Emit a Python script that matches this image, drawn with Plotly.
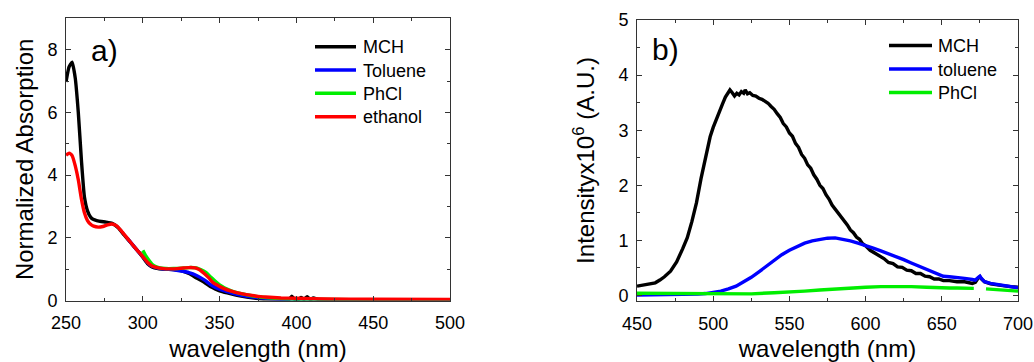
import plotly.graph_objects as go

# ---------------- data: panel a) absorption ----------------
wl_abs_mch = [250, 252, 254, 256, 258, 260, 262, 264, 266, 268, 270, 273, 276, 280, 284, 288, 292, 296,
              300, 303, 306, 310, 315, 320, 325, 330, 335, 340, 345, 350, 355, 360, 365, 370, 375, 380,
              385, 390, 395, 397, 399, 401, 403, 405, 407, 409, 411, 415, 420, 430, 440, 450, 460, 470,
              480, 490, 500]
abs_mch = [6.97, 7.45, 7.6, 7.1, 6.0, 4.5, 3.3, 2.86, 2.66, 2.58, 2.55, 2.52, 2.5, 2.46, 2.32, 2.08, 1.85, 1.62,
           1.38, 1.18, 1.07, 1.02, 1.0, 0.99, 0.95, 0.86, 0.72, 0.58, 0.42, 0.31, 0.24, 0.18, 0.13, 0.09, 0.06, 0.03,
           0.02, 0.01, 0.02, 0.14, 0.03, 0.02, 0.1, 0.04, 0.12, 0.03, 0.08, 0.02, 0.02, 0.02, 0.02, 0.02, 0.02, 0.02,
           0.02, 0.02, 0.02]

wl_abs_tol = [290, 295, 300, 305, 310, 315, 320, 325, 330, 335, 340, 345, 350, 355, 360, 365, 370, 380, 390,
              400, 450, 500]
abs_tol = [1.98, 1.68, 1.4, 1.12, 1.03, 1.0, 0.98, 0.94, 0.89, 0.8, 0.66, 0.48, 0.36, 0.28, 0.21, 0.16, 0.12,
           0.07, 0.04, 0.03, 0.02, 0.02]

wl_abs_phcl = [300, 302, 304, 306, 308, 311, 315, 320, 325, 330, 335, 338, 341, 344, 347, 350, 353, 356, 360,
               365, 370, 375, 380, 390, 400, 420, 450, 500]
abs_phcl = [1.6, 1.42, 1.28, 1.16, 1.09, 1.04, 1.02, 1.02, 1.03, 1.05, 1.04, 0.98, 0.9, 0.76, 0.62, 0.5, 0.41,
            0.34, 0.27, 0.21, 0.16, 0.12, 0.09, 0.06, 0.04, 0.03, 0.02, 0.02]

wl_abs_eth = [250, 252, 254, 256, 258, 260, 262, 264, 266, 268, 271, 274, 277, 280, 283, 286, 290, 295, 300,
              303, 306, 310, 315, 320, 325, 330, 334, 337, 340, 343, 346, 350, 353, 356, 361, 365, 370, 375,
              380, 390, 400, 420, 450, 500]
abs_eth = [4.63, 4.7, 4.62, 4.3, 3.85, 3.25, 2.8, 2.55, 2.43, 2.37, 2.34, 2.36, 2.41, 2.44, 2.38, 2.22, 1.98,
           1.68, 1.4, 1.22, 1.1, 1.04, 1.01, 1.01, 1.03, 1.05, 1.04, 0.98, 0.86, 0.72, 0.56, 0.45, 0.38, 0.32,
           0.25, 0.21, 0.17, 0.13, 0.11, 0.08, 0.07, 0.05, 0.04, 0.03]

# ---------------- data: panel b) emission ----------------
wl_em_mch = [450, 455, 459, 462, 465, 468, 472, 476, 480, 483, 486, 489, 492, 495, 498, 500, 502, 504, 506, 508,
             509.5, 511, 512.5, 514, 515.5, 517, 518.5, 520, 521, 522.5, 524, 526, 528, 530, 532, 534, 536, 538,
             540, 542, 544, 546, 548, 550, 552, 554, 556, 558, 560, 562, 564, 566, 568, 570, 572, 574, 576, 578,
             580, 582, 584, 586, 588, 590, 592, 594, 596, 598, 600, 603, 606, 609, 612, 615, 618, 621, 624, 627,
             630, 633, 636, 639, 642, 645, 648, 651, 655, 660, 665, 670, 672, 674, 675, 676, 678, 682, 686, 690,
             695, 700]
em_mch = [0.17, 0.19, 0.21, 0.23, 0.28, 0.34, 0.44, 0.61, 0.85, 1.05, 1.34, 1.68, 2.12, 2.52, 2.88, 3.05, 3.2,
          3.36, 3.47, 3.6, 3.66, 3.73, 3.68, 3.62, 3.67, 3.64, 3.7, 3.67, 3.73, 3.66, 3.68, 3.63, 3.62, 3.58, 3.56,
          3.52, 3.49, 3.43, 3.38, 3.3, 3.23, 3.12, 3.06, 2.95, 2.89, 2.76, 2.69, 2.56, 2.49, 2.37, 2.31, 2.19, 2.11,
          2.0, 1.94, 1.83, 1.75, 1.64, 1.57, 1.49, 1.43, 1.34, 1.28, 1.19, 1.14, 1.06, 1.02, 0.94, 0.9, 0.82, 0.77,
          0.71, 0.67, 0.6, 0.58, 0.52, 0.51, 0.46, 0.45, 0.4, 0.4, 0.35, 0.34, 0.3, 0.3, 0.27, 0.27, 0.25,
          0.25, 0.22, 0.24, 0.32, 0.34, 0.3, 0.25, 0.21, 0.2, 0.18, 0.16, 0.15]

wl_em_tol = [450, 470, 485, 490, 495, 500, 505, 510, 515, 520, 525, 530, 535, 540, 545, 550, 555, 560, 565, 570,
             575, 580, 585, 590, 595, 600, 605, 610, 615, 620, 625, 630, 635, 640, 645, 648, 651, 655, 660, 665,
             670, 672, 674, 675, 676, 678, 682, 686, 690, 695, 700]
em_tol = [0.01, 0.01, 0.02, 0.025, 0.035, 0.05, 0.08, 0.12, 0.17, 0.25, 0.33, 0.43, 0.53, 0.63, 0.74, 0.82, 0.89,
          0.95, 0.99, 1.02, 1.04, 1.045, 1.02, 0.99, 0.95, 0.91, 0.86, 0.81, 0.76, 0.71, 0.65, 0.59, 0.53, 0.48,
          0.42, 0.38, 0.35, 0.34, 0.33, 0.31, 0.29, 0.28, 0.33, 0.35, 0.31, 0.25, 0.22, 0.2, 0.18, 0.16, 0.14]

wl_em_phcl = [450, 480, 500, 525, 540, 550, 560, 570, 580, 590, 600, 610, 620, 630, 640, 650, 655, 660, 665, 671,
              675, 679, 685, 690, 695, 700]
em_phcl = [0.04, 0.03, 0.03, 0.03, 0.05, 0.06, 0.08, 0.1, 0.12, 0.14, 0.15, 0.16, 0.165, 0.16, 0.15, 0.13, 0.135,
           0.135, 0.13, 0.13, None, 0.12, 0.11, 0.1, 0.09, 0.08]

labels_a = ["MCH", "Toluene", "PhCl", "ethanol"]
labels_b = ["MCH", "toluene", "PhCl"]
colors = ["#000000", "#0000FF", "#00EE00", "#FF0000"]

W, H = 1034, 362
FONT = "Arial, Liberation Sans, sans-serif"


def px(x):
    return x / W


def py(y):
    return 1 - y / H


fig = go.Figure()
series_a = [(wl_abs_mch, abs_mch), (wl_abs_tol, abs_tol), (wl_abs_phcl, abs_phcl), (wl_abs_eth, abs_eth)]
for (xs, ys), name, c in zip(series_a, labels_a, colors):
    fig.add_trace(go.Scatter(x=xs, y=ys, name=name, mode="lines",
                             line=dict(color=c, width=3.4, shape="spline", smoothing=0.5),
                             xaxis="x", yaxis="y", showlegend=False, connectgaps=False))

series_b = [(wl_em_mch, em_mch), (wl_em_tol, em_tol), (wl_em_phcl, em_phcl)]
for (xs, ys), name, c in zip(series_b, labels_b, colors):
    fig.add_trace(go.Scatter(x=xs, y=ys, name=name, mode="lines", line=dict(color=c, width=3.4),
                             xaxis="x2", yaxis="y2", showlegend=False, connectgaps=False))

axcol = "#333333"


def axis_common(dtick, minor_dtick):
    return dict(showline=True, linecolor=axcol, linewidth=1, mirror="ticks", ticks="inside", ticklen=5,
                tickwidth=1, tickcolor=axcol, showgrid=False, zeroline=False, dtick=dtick, automargin=False,
                minor=dict(ticks="inside", ticklen=3, tickwidth=1, tickcolor=axcol, dtick=minor_dtick, showgrid=False),
                tickfont=dict(family=FONT, size=18, color="#000"),
                title_font=dict(family=FONT, size=24, color="#000"))


xa = axis_common(50, 25)
xa.update(domain=[px(66), px(450)], range=[250, 500], anchor="y", tick0=250,
          title=dict(text="wavelength (nm)", standoff=15), ticklabelstandoff=6)
ya = axis_common(2, 1)
ya.update(domain=[py(300.5), py(18.3)], range=[0, 9], anchor="x", tick0=0,
          title=dict(text="Normalized Absorption", standoff=6), ticklabelstandoff=4)
xb = axis_common(50, 25)
xb.update(domain=[px(637), px(1018)], range=[450, 700], anchor="y2", tick0=450,
          title=dict(text="wavelength (nm)", standoff=15), ticklabelstandoff=6)
yb = axis_common(1, 0.5)
yb.update(domain=[py(301), py(20)], range=[-0.1, 5], anchor="x2", tick0=0,
          title=dict(text="Intensityx10<sup>6</sup> (A.U.)", standoff=16), ticklabelstandoff=4)

shapes = []
annotations = []
# manual legends
leg_a_rows = [46.7, 70.0, 93.3, 116.7]
for lab, c, yy in zip(labels_a, colors, leg_a_rows):
    shapes.append(dict(type="line", xref="paper", yref="paper", x0=px(315), x1=px(356), y0=py(yy), y1=py(yy),
                       line=dict(color=c, width=3.5)))
    annotations.append(dict(text=lab, xref="paper", yref="paper", x=px(361), y=py(yy + 0.5), xanchor="left",
                            yanchor="middle", showarrow=False, font=dict(family=FONT, size=18, color="#000")))
leg_b_rows = [45.5, 69.0, 92.5]
for lab, c, yy in zip(labels_b, colors, leg_b_rows):
    shapes.append(dict(type="line", xref="paper", yref="paper", x0=px(889), x1=px(932), y0=py(yy), y1=py(yy),
                       line=dict(color=c, width=3.5)))
    annotations.append(dict(text=lab, xref="paper", yref="paper", x=px(936), y=py(yy + 0.5), xanchor="left",
                            yanchor="middle", showarrow=False, font=dict(family=FONT, size=18, color="#000")))

annotations.append(dict(text="a)", xref="paper", yref="paper", x=px(89), y=py(50.5), xanchor="left",
                        yanchor="middle", showarrow=False, font=dict(family=FONT, size=30, color="#000")))
annotations.append(dict(text="b)", xref="paper", yref="paper", x=px(650), y=py(50), xanchor="left",
                        yanchor="middle", showarrow=False, font=dict(family=FONT, size=30, color="#000")))

fig.update_layout(width=W, height=H, margin=dict(l=0, r=0, t=0, b=0), paper_bgcolor="white",
                  plot_bgcolor="white", showlegend=False,
                  xaxis=xa, yaxis=ya, xaxis2=xb, yaxis2=yb, shapes=shapes, annotations=annotations)

fig.write_html("out.html")
